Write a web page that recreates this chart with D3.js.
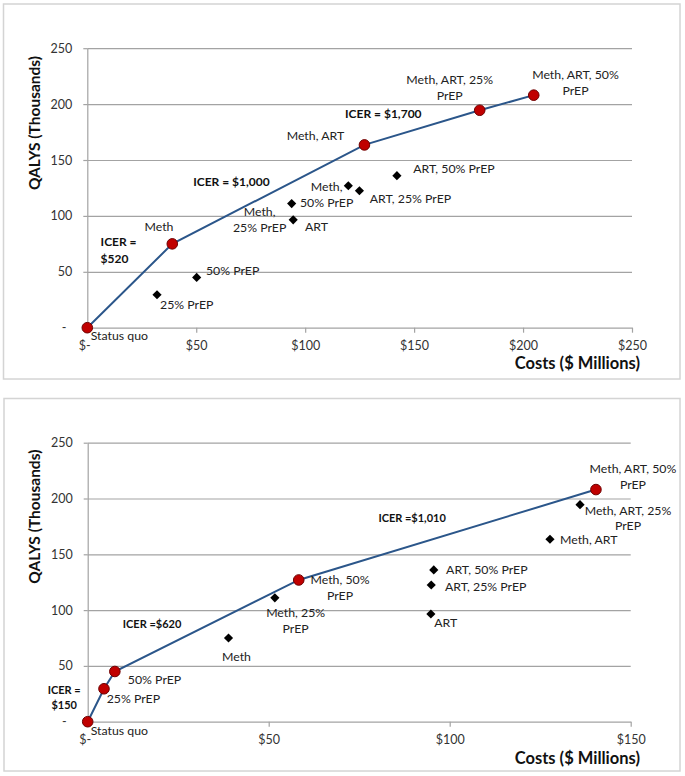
<!DOCTYPE html>
<html>
<head>
<meta charset="utf-8">
<script src="https://cdn.jsdelivr.net/npm/d3@7"></script>
<style>
  html, body { margin: 0; padding: 0; background: #fff; }
  svg text { font-family: Lato, "Liberation Sans", Arial, sans-serif; }
</style>
</head>
<body>
<svg id="chart" width="685" height="776"></svg>
<script>
// ---------------- DATA ----------------
const strategies = ["Status quo", "25% PrEP", "50% PrEP", "Meth", "Meth, 25% PrEP", "Meth, 50% PrEP",
  "ART", "ART, 25% PrEP", "ART, 50% PrEP", "Meth, ART", "Meth, ART, 25% PrEP", "Meth, ART, 50% PrEP"];
// QALYs gained (thousands)
const qalys = [0, 29.5, 45, 75, 111, 127, 96.5, 122.5, 136, 163.5, 194.5, 208];
// Costs ($ millions), upper panel
const costsA = [0, 32, 50.2, 39, 93.8, 119.8, 94.5, 124.9, 142.1, 127.2, 180.1, 204.9];
// Costs ($ millions), lower panel
const costsB = [0, 4.5, 7.5, 38.9, 51.7, 58.3, 94.8, 94.9, 95.6, 127.7, 136, 140.4];
// Efficient frontier strategies
const frontierA = ["Status quo", "Meth", "Meth, ART", "Meth, ART, 25% PrEP", "Meth, ART, 50% PrEP"];
const frontierB = ["Status quo", "25% PrEP", "50% PrEP", "Meth, 50% PrEP", "Meth, ART, 50% PrEP"];
// Axes ticks
const xTicksA = [0, 50, 100, 150, 200, 250];
const xTicksB = [0, 50, 100, 150];
const yTicks = [0, 50, 100, 150, 200, 250];
// ICER annotations (text; "|" = line break) and their anchor values [cost, qaly]
const icerTextA = ["ICER =|$520", "ICER = $1,000", "ICER = $1,700"];
const icerAtA = [[6.1, 76.4], [48.6, 130.3], [118.3, 190.9]];
const icerTextB = ["ICER =|$150", "ICER =$620", "ICER =$1,010"];
const icerAtB = [[-6.5, 28.4], [9.7, 87.3], [80.3, 182.8]];

// ---------------- LAYOUT (label offsets in px) ----------------
const labelLayoutA = {
  "Status quo": {dx: 3.4, dy: 8, a: "start"},
  "25% PrEP": {dx: 3, dy: 9.6, a: "start"},
  "50% PrEP": {dx: 9.3, dy: -6.3, a: "start"},
  "Meth": {dx: -13.3, dy: -16.7, a: "middle"},
  "Meth, 25% PrEP": {dx: -32, dy: 7.7, a: "middle", lines: ["Meth,", "25% PrEP"]},
  "Meth, 50% PrEP": {dx: -21.7, dy: 1.3, a: "middle", lines: ["Meth,", "50% PrEP"]},
  "ART": {dx: 11.7, dy: 7.3, a: "start"},
  "ART, 25% PrEP": {dx: 10.3, dy: 7.7, a: "start"},
  "ART, 50% PrEP": {dx: 16.3, dy: -7, a: "start"},
  "Meth, ART": {dx: -49, dy: -9, a: "middle"},
  "Meth, ART, 25% PrEP": {dx: -30, dy: -30.7, a: "middle", lines: ["Meth, ART, 25%", "PrEP"]},
  "Meth, ART, 50% PrEP": {dx: 41.8, dy: -20, a: "middle", lines: ["Meth, ART, 50%", "PrEP"]}
};
const labelLayoutB = {
  "Status quo": {dx: 3, dy: 9, a: "start"},
  "25% PrEP": {dx: 2.7, dy: 10.3, a: "start"},
  "50% PrEP": {dx: 13, dy: 8, a: "start"},
  "Meth": {dx: 8, dy: 18.4, a: "middle"},
  "Meth, 25% PrEP": {dx: 20.8, dy: 15, a: "middle", lines: ["Meth, 25%", "PrEP"]},
  "Meth, 50% PrEP": {dx: 41.3, dy: 0, a: "middle", lines: ["Meth, 50%", "PrEP"]},
  "ART": {dx: 3.3, dy: 8.7, a: "start"},
  "ART, 25% PrEP": {dx: 13.7, dy: 1.7, a: "start"},
  "ART, 50% PrEP": {dx: 12.3, dy: -0.7, a: "start"},
  "Meth, ART": {dx: 10, dy: 0.7, a: "start"},
  "Meth, ART, 25% PrEP": {dx: 48, dy: 5.7, a: "middle", lines: ["Meth, ART, 25%", "PrEP"]},
  "Meth, ART, 50% PrEP": {dx: 37, dy: -20.7, a: "middle", lines: ["Meth, ART, 50%", "PrEP"]}
};

const FONT = "Lato, 'Liberation Sans', Arial, sans-serif";
const svg = d3.select("#chart");

function drawPanel(cfg) {
  const g = svg.append("g");
  // frame
  g.append("rect").attr("x", cfg.frame[0]).attr("y", cfg.frame[1])
    .attr("width", cfg.frame[2] - cfg.frame[0]).attr("height", cfg.frame[3] - cfg.frame[1])
    .attr("fill", "#fff").attr("stroke", "#d4d4d4").attr("stroke-width", 1.5);

  const x = d3.scaleLinear().domain([0, cfg.xMax]).range([cfg.x0, cfg.x1]);
  const y = d3.scaleLinear().domain([0, 250]).range([cfg.y0, cfg.yTop]);
  const W = cfg.x1 - cfg.x0;

  // gridlines
  const grid = g.append("g").attr("transform", `translate(${cfg.x0},0)`)
    .call(d3.axisLeft(y).tickValues(yTicks.filter(d => d > 0)).tickSize(-W).tickFormat(""));
  grid.select(".domain").remove();
  grid.selectAll("line").attr("stroke", "#a3a3a3").attr("stroke-width", 1.2);

  // y axis
  const ya = g.append("g").attr("transform", `translate(${cfg.x0},0)`)
    .call(d3.axisLeft(y).tickValues(yTicks).tickSizeInner(4).tickSizeOuter(0).tickPadding(11)
      .tickFormat(d => d === 0 ? "-" : d3.format("d")(d)));
  ya.select(".domain").attr("stroke", "#a3a3a3").attr("stroke-width", 1.2);
  ya.selectAll("line").attr("stroke", "#a3a3a3").attr("stroke-width", 1.2);
  ya.selectAll("text").attr("font-size", 12.5).attr("fill", "#333")
    .style("font-family", FONT)
    .attr("dx", d => d === 0 ? -6 : 0);

  // x axis
  const xa = g.append("g").attr("transform", `translate(0,${cfg.y0})`)
    .call(d3.axisBottom(x).tickValues(cfg.xTicks).tickSizeInner(5).tickSizeOuter(0).tickPadding(8)
      .tickFormat(d => d === 0 ? "$-" : "$" + d));
  xa.select(".domain").attr("stroke", "#a3a3a3").attr("stroke-width", 1.2);
  xa.selectAll("line").attr("stroke", "#a3a3a3").attr("stroke-width", 1.2);
  xa.selectAll("text").attr("font-size", 12.5).attr("fill", "#333")
    .style("font-family", FONT)
    .attr("dx", d => d === 0 ? -3 : 0);

  // axis titles
  g.append("text").attr("transform", `translate(${cfg.yTitle[0]},${cfg.yTitle[1]}) rotate(-90)`)
    .attr("text-anchor", "middle").attr("dy", "0.35em")
    .attr("font-size", 15.5).attr("font-weight", "bold").attr("fill", "#111")
    .text("QALYS (Thousands)");
  g.append("text").attr("x", cfg.xTitle[0]).attr("y", cfg.xTitle[1])
    .attr("text-anchor", "end").attr("dy", "0.35em")
    .attr("font-size", 16.5).attr("font-weight", "bold").attr("fill", "#111")
    .text("Costs ($ Millions)");

  const pts = strategies.map((s, i) => ({name: s, cost: cfg.costs[i], q: qalys[i], front: cfg.frontier.includes(s)}));
  const frontPts = cfg.frontier.map(s => pts.find(p => p.name === s)).sort((a, b) => a.cost - b.cost);

  // frontier line
  g.append("path").datum(frontPts)
    .attr("fill", "none").attr("stroke", "#2b568a").attr("stroke-width", 2)
    .attr("d", d3.line().x(d => x(d.cost)).y(d => y(d.q)));

  // dominated strategies (diamonds)
  g.selectAll(".dia").data(pts.filter(p => !p.front)).enter().append("path")
    .attr("d", d3.symbol().type(d3.symbolSquare).size(42))
    .attr("transform", d => `translate(${x(d.cost)},${y(d.q)}) rotate(45)`)
    .attr("fill", "#000");

  // frontier strategies (red circles)
  g.selectAll(".dot").data(frontPts).enter().append("circle")
    .attr("cx", d => x(d.cost)).attr("cy", d => y(d.q)).attr("r", 5.3)
    .attr("fill", "#c00000").attr("stroke", "#6e0000").attr("stroke-width", 1);

  // data labels
  pts.forEach(p => {
    const L = cfg.layout[p.name];
    const lines = L.lines || [p.name];
    const t = g.append("text").attr("font-size", 12.3).attr("fill", "#222")
      .attr("text-anchor", L.a);
    lines.forEach((ln, k) => {
      t.append("tspan").attr("x", x(p.cost) + L.dx)
        .attr("y", y(p.q) + L.dy + k * cfg.lh).attr("dy", "0.35em").text(ln);
    });
  });

  // ICER annotations
  cfg.icerText.forEach((txt, i) => {
    const [c, q] = cfg.icerAt[i];
    const t = g.append("text").attr("font-size", cfg.icerSize).attr("font-weight", "bold")
      .attr("fill", "#111").attr("text-anchor", i === 0 && cfg.icerFirstMiddle ? "middle" : "start");
    txt.split("|").forEach((ln, k) => {
      t.append("tspan").attr("x", x(c)).attr("y", y(q) + k * cfg.icerLh).attr("dy", "0.35em").text(ln);
    });
  });
}

drawPanel({
  frame: [3.5, 4, 680, 379],
  x0: 87.3, x1: 632, y0: 327.7, yTop: 48.2, xMax: 250,
  xTicks: xTicksA, costs: costsA, frontier: frontierA, layout: labelLayoutA, lh: 16,
  yTitle: [35, 123], xTitle: [640, 363.3],
  icerText: icerTextA, icerAt: icerAtA, icerSize: 12, icerLh: 16.4, icerFirstMiddle: false
});
drawPanel({
  frame: [4, 398.5, 680, 771],
  x0: 87.7, x1: 630.7, y0: 721.7, yTop: 442.7, xMax: 150,
  xTicks: xTicksB, costs: costsB, frontier: frontierB, layout: labelLayoutB, lh: 15.6,
  yTitle: [35, 516.7], xTitle: [640, 758.3],
  icerText: icerTextB, icerAt: icerAtB, icerSize: 11, icerLh: 15, icerFirstMiddle: true
});
</script>
</body>
</html>
